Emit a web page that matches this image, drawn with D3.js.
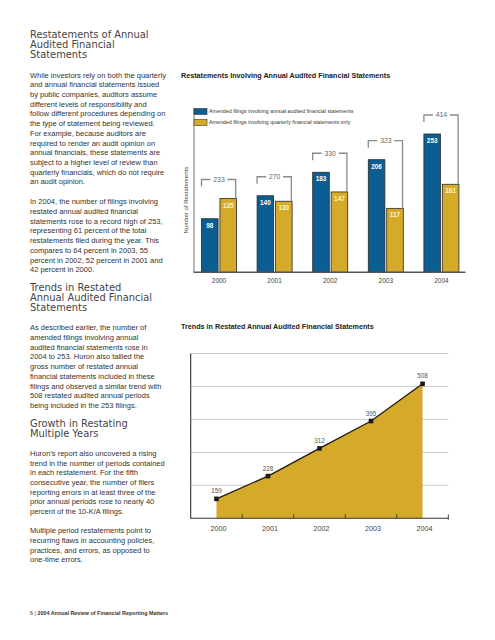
<!DOCTYPE html>
<html><head><meta charset="utf-8">
<script src="https://cdn.jsdelivr.net/npm/d3@7/dist/d3.min.js"></script>
<style>html,body{margin:0;padding:0;background:#fff;}</style>
</head><body>
<script>
// ---- data ----
const years = ["2000", "2001", "2002", "2003", "2004"];
const annualFilings = [98, 140, 183, 206, 253];
const quarterlyFilings = [135, 130, 147, 117, 161];
const totalFilings = [233, 270, 330, 323, 414];
const restatedPeriods = [159, 228, 312, 395, 508];
const chart2Ticks = [200, 300, 400, 500, 600];
const seriesNames = ["Amended filings involving annual audited financial statements",
                     "Amended filings involving quarterly financial statements only"];

const BLUE = "#0b5d92", GOLD = "#d5aa2b";

const svg = d3.select("body").append("svg").attr("width", 495).attr("height", 640)
  .style("font-family", "'Liberation Sans', Arial, sans-serif");
svg.append("rect").attr("width", 495).attr("height", 640).attr("fill", "#fff");

// ---- left text column ----
const blocks = [
  {type: "h", y: 38, lines: ["Restatements of Annual", "Audited Financial", "Statements"]},
  {type: "p", y: 77.5, lines: ["While investors rely on both the quarterly", "and annual financial statements issued",
    "by public companies, auditors assume", "different levels of responsibility and",
    "follow different procedures depending on", "the type of statement being reviewed.",
    "For example, because auditors are", "required to render an audit opinion on",
    "annual financials, these statements are", "subject to a higher level of review than",
    "quarterly financials, which do not require", "an audit opinion."]},
  {type: "p", y: 204.2, lines: ["In 2004, the number of filings involving", "restated annual audited financial",
    "statements rose to a record high of 253,", "representing 61 percent of the total",
    "restatements filed during the year. This", "compares to 64 percent in 2003, 55",
    "percent in 2002, 52 percent in 2001 and", "42 percent in 2000."]},
  {type: "h", y: 290.5, lines: ["Trends in Restated", "Annual Audited Financial", "Statements"]},
  {type: "p", y: 330.2, lines: ["As described earlier, the number of", "amended filings involving annual",
    "audited financial statements rose in", "2004 to 253. Huron also tallied the",
    "gross number of restated annual", "financial statements included in these",
    "filings and observed a similar trend with", "508 restated audited annual periods",
    "being included in the 253 filings."]},
  {type: "h", y: 426.5, lines: ["Growth in Restating", "Multiple Years"]},
  {type: "p", y: 455.8, lines: ["Huron's report also uncovered a rising", "trend in the number of periods contained",
    "in each restatement. For the fifth", "consecutive year, the number of filers",
    "reporting errors in at least three of the", "prior annual periods rose to nearly 40",
    "percent of the 10-K/A filings."]},
  {type: "p", y: 533.2, lines: ["Multiple period restatements point to", "recurring flaws in accounting policies,",
    "practices, and errors, as opposed to", "one-time errors."]}
];
blocks.forEach(b => {
  const t = svg.append("text").attr("x", 30).attr("y", b.y)
    .attr("fill", b.type === "h" ? "#444" : "#333")
    .style("font-family", b.type === "h" ? "'DejaVu Sans', Verdana, sans-serif" : "'Liberation Sans', Arial, sans-serif")
    .style("font-size", b.type === "h" ? "9.9px" : "7.5px");
  b.lines.forEach((l, i) => t.append("tspan").attr("x", 30).attr("y", b.y + i * (b.type === "h" ? 10 : 9.72)).text(l));
});
const foot = svg.append("text").attr("x", 30).attr("y", 615.3).style("font-size", "5.4px").attr("fill", "#333");
foot.append("tspan").text("6 | ");
foot.append("tspan").style("font-weight", "bold").text("2004 Annual Review of Financial Reporting Matters");

// ---- chart 1 ----
svg.append("text").attr("x", 181).attr("y", 77.5).style("font-size", "7.2px").style("font-weight", "bold")
  .attr("fill", "#222").text("Restatements Involving Annual Audited Financial Statements");

const x0 = d3.scaleBand().domain(years).range([191.2, 469.2]).paddingInner(0.37).paddingOuter(0.185);
const x1 = d3.scaleBand().domain([0, 1]).range([0, x0.bandwidth()]).paddingInner(0.1);
const y1 = d3.scaleLinear().domain([0, 300]).range([272.3, 108.3]);

const g1 = svg.append("g");
// y axis line
g1.append("line").attr("x1", 194).attr("x2", 194).attr("y1", y1.range()[1]).attr("y2", y1(0))
  .attr("stroke", "#888").attr("stroke-width", 1.2);
// legend
seriesNames.forEach((s, i) => {
  g1.append("rect").attr("x", 194).attr("y", 108.5 + i * 11).attr("width", 13).attr("height", 6)
    .attr("fill", i ? GOLD : BLUE).attr("stroke", "#333").attr("stroke-width", 0.6);
  g1.append("text").attr("x", 209).attr("y", 113.3 + i * 11).style("font-size", "5.3px").attr("fill", "#333").text(s);
});
g1.append("text").attr("transform", `translate(188.3,${y1(132)}) rotate(-90)`).attr("text-anchor", "middle")
  .style("font-size", "6px").attr("fill", "#444").text("Number of Restatements");

years.forEach((yr, i) => {
  const vals = [annualFilings[i], quarterlyFilings[i]];
  vals.forEach((v, j) => {
    const bx = x0(yr) + x1(j);
    g1.append("rect").attr("x", bx).attr("y", y1(v)).attr("width", x1.bandwidth()).attr("height", y1(0) - y1(v))
      .attr("fill", j ? GOLD : BLUE).attr("stroke", "#2a2a2a").attr("stroke-width", 0.8);
    g1.append("text").attr("x", bx + x1.bandwidth() / 2).attr("y", y1(v) + 9).attr("text-anchor", "middle")
      .style("font-size", "6.4px").style("font-weight", "bold").attr("fill", j ? "#fff6c8" : "#fff").text(v);
  });
  // bracket
  const top = y1(Math.max(vals[0], vals[1])) - 19;
  const left = x0(yr) + x1(0), right = x0(yr) + x1(1) + x1.bandwidth() - 0.8;
  const cx = x0(yr) + x0.bandwidth() / 2;
  g1.append("text").attr("x", cx).attr("y", top + 2.4).attr("text-anchor", "middle")
    .style("font-size", "6.8px").attr("fill", "#666").text(totalFilings[i]);
  const hw = 8.5;
  g1.append("path").attr("d", `M${left},${top + 7}V${top}H${cx - hw}M${cx + hw},${top}H${right}V${y1(vals[1])}`)
    .attr("fill", "none").attr("stroke", "#8a8a8a").attr("stroke-width", 1.3);
  g1.append("text").attr("x", cx).attr("y", 282.5).attr("text-anchor", "middle")
    .style("font-size", "6.5px").attr("fill", "#444").text(yr);
});
g1.append("line").attr("x1", 193.5).attr("x2", 465.5).attr("y1", y1(0)).attr("y2", y1(0))
  .attr("stroke", "#555").attr("stroke-width", 1.4);

// ---- chart 2 ----
svg.append("text").attr("x", 181).attr("y", 329).style("font-size", "7.2px").style("font-weight", "bold")
  .attr("fill", "#222").text("Trends in Restated Annual Audited Financial Statements");

const x2 = d3.scaleBand().domain(years).range([190.7, 448.3]);
const y2 = d3.scaleLinear().domain([100, 600]).range([518.3, 353.5]);
const g2 = svg.append("g");
g2.selectAll(".grid").data(chart2Ticks).enter().append("line")
  .attr("x1", 190.7).attr("x2", 448.3).attr("y1", d => y2(d)).attr("y2", d => y2(d))
  .attr("stroke", "#c4c4c4").attr("stroke-width", 0.9);
const pts = years.map((yr, i) => ({x: x2(yr) + x2.bandwidth() / 2, v: restatedPeriods[i]}));
g2.append("path").datum(pts)
  .attr("d", d3.area().x(d => d.x).y0(y2(100)).y1(d => y2(d.v)))
  .attr("fill", GOLD);
g2.append("path").datum(pts)
  .attr("d", d3.line().x(d => d.x).y(d => y2(d.v)))
  .attr("fill", "none").attr("stroke", "#1e1a10").attr("stroke-width", 1.3);
pts.forEach(p => {
  g2.append("rect").attr("x", p.x - 2.3).attr("y", y2(p.v) - 2.3).attr("width", 4.6).attr("height", 4.6).attr("fill", "#1a1a1a");
  g2.append("text").attr("x", p.x).attr("y", y2(p.v) - 5.5).attr("text-anchor", "middle")
    .style("font-size", "6.3px").attr("fill", "#555").text(p.v);
});
g2.append("line").attr("x1", 190.7).attr("x2", 190.7).attr("y1", y2(600)).attr("y2", y2(100))
  .attr("stroke", "#333").attr("stroke-width", 1.1);
g2.append("line").attr("x1", 190.2).attr("x2", 448.3).attr("y1", y2(100)).attr("y2", y2(100))
  .attr("stroke", "#333").attr("stroke-width", 1.1);
years.forEach((yr, i) => {
  const tx = x2(yr) + x2.bandwidth();
  g2.append("line").attr("x1", tx).attr("x2", tx).attr("y1", y2(100) - 4).attr("y2", y2(100) + (i === 4 ? 1.5 : 0))
    .attr("stroke", "#333").attr("stroke-width", 0.9);
  g2.append("text").attr("x", x2(yr) + x2.bandwidth() / 2 + 2).attr("y", 530.7).attr("text-anchor", "middle")
    .style("font-size", "7.2px").attr("fill", "#444").text(yr);
});
</script>
</body></html>
